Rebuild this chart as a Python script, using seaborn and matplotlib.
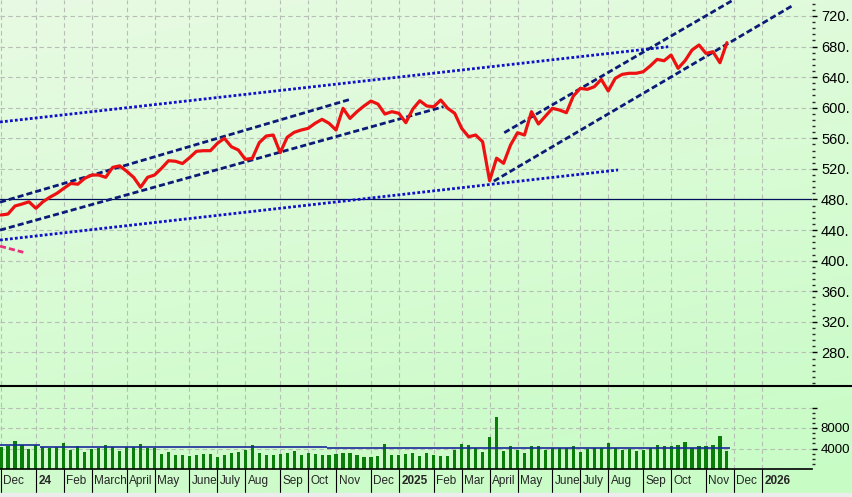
import matplotlib
matplotlib.use("Agg")
import matplotlib.pyplot as plt
import seaborn as sns
import numpy as np
import pandas as pd
from matplotlib.lines import Line2D
from matplotlib.patches import Rectangle
from matplotlib.ticker import FixedLocator, MultipleLocator

# weekly closes, one bar per Friday starting 1 Dec 2023
close = [459.7, 461.0, 471.5, 474.0, 477.0, 468.5, 477.0, 483.0, 488.0, 494.6,
         501.0, 500.0, 507.7, 512.0, 512.0, 509.0, 522.0, 524.0, 517.0, 509.0,
         496.0, 509.0, 512.0, 520.8, 530.7, 530.0, 527.0, 534.6, 543.0, 543.8,
         543.8, 553.4, 560.0, 549.0, 544.7, 532.5, 533.8, 554.3, 563.0, 564.3,
         541.2, 561.3, 567.8, 570.8, 573.0, 579.6, 584.8, 579.6, 570.8, 599.2,
         586.0, 594.8, 602.2, 608.7, 604.8, 591.7, 594.8, 592.7, 580.4, 598.3,
         609.1, 602.2, 601.3, 610.0, 599.2, 592.7, 573.0, 562.0, 564.3, 555.5,
         504.6, 534.0, 527.3, 551.2, 567.3, 564.3, 594.8, 578.7, 589.0, 599.2,
         597.0, 593.5, 615.3, 625.3, 624.0, 627.4, 637.0, 621.8, 638.4, 643.6,
         645.0, 645.0, 647.0, 654.5, 663.2, 661.4, 668.9, 651.5, 661.4, 675.4,
         682.0, 671.0, 673.2, 658.8, 685.0]

volume = [4200, 4400, 5500, 4600, 4000, 4600, 4200, 4100, 4200, 5100,
          3800, 4400, 3400, 3900, 4100, 4700, 4200, 3600, 4200, 4200,
          4900, 4100, 4100, 3000, 3400, 2800, 2700, 2600, 2800, 3000,
          3000, 2300, 2800, 3100, 3400, 3800, 4700, 3200, 2800, 2800,
          2900, 3200, 3600, 2800, 3200, 2900, 2700, 2700, 2900, 3100,
          3100, 2800, 2300, 2300, 2500, 4900, 2700, 2700, 3000, 3200,
          2500, 3200, 2800, 2500, 2500, 3800, 4900, 4600, 4100, 3400,
          6300, 10100, 3600, 4400, 3800, 3200, 4400, 4400, 3800, 4100,
          4100, 4100, 4500, 3400, 4000, 4100, 4100, 5100, 4100, 3800,
          4000, 3600, 3800, 4100, 4700, 4500, 4400, 4700, 5300, 4100,
          4400, 4500, 4700, 6500, 3600]

# volume average, drawn as flat steps
avg_from = [-0.1, 5.6, 11.6, 46.7]
avg_to = [5.6, 11.6, 46.7, 104.4]
avg_level = [4700, 4350, 4200, 4030]

# trend lines: (start week, start value, end week, end value)
dotted_lines = [(-0.14, 581.3, 95.6, 679.7),
                (-0.14, 427.0, 88.4, 518.6)]
dashed_lines = [(-0.14, 476.5, 50.2, 611.4),
                (-0.14, 440.0, 63.4, 601.3),
                (72.1, 567.3, 104.9, 740.8),
                (70.6, 504.0, 113.5, 734.0)]
pink_line = (-0.14, 419.0, 3.2, 411.0)
support = 480

price_ticks = [280, 320, 360, 400, 440, 480, 520, 560, 600, 640, 680, 720]
price_labels = [f"{p}." for p in price_ticks]
vol_ticks = [4000, 8000, 12000]
vol_labels = ["4000", "8000", ""]
month_labels = ["Dec", "24", "Feb", "March", "April", "May", "June", "July",
                "Aug", "Sep", "Oct", "Nov", "Dec", "2025", "Feb", "Mar",
                "April", "May", "June", "July", "Aug", "Sep", "Oct", "Nov",
                "Dec", "2026"]
year_labels = ["24", "2025", "2026"]

weeks = pd.date_range("2023-12-01", periods=110, freq="W-FRI")
month_idx = [i for i in range(len(weeks))
             if i == 0 or weeks[i].month != weeks[i - 1].month]

df = pd.DataFrame({"week": np.arange(len(close)), "close": close, "volume": volume})

sns.set_style("white")
plt.rcParams["font.family"] = ["Liberation Sans", "DejaVu Sans"]

W, H = 852, 497
fig = plt.figure(figsize=(W / 100, H / 100), dpi=100)

# green background
bg = fig.add_axes([0, 0, 1, 1])
yy, xx = np.mgrid[0:1:200j, 0:1:300j]
t = 0.75 * yy + 0.25 * xx
top = np.array([0.91, 0.98, 0.89])
bottom = np.array([0.78, 0.99, 0.77])
img = top * (1 - t)[..., None] + bottom * t[..., None]
bg.imshow(img, extent=[0, 1, 0, 1], aspect="auto")
bg.axis("off")
bg.set_zorder(0)
fig.patches.append(Rectangle((0, 0), 1, 4 / H, transform=fig.transFigure,
                             color="#ececec", zorder=5))

xlim = (-0.143, 116.19)
grid_kw = dict(color="#b6beb6", linestyle=(0, (4, 3)), linewidth=0.8)

# price panel
ax = fig.add_axes([0, 1 - 385 / H, 812 / W, 385 / H])
ax.set_zorder(1)
ax.set_facecolor("none")
for x in month_idx:
    ax.axvline(x, zorder=0, **grid_kw)
for y in price_ticks:
    ax.axhline(y, zorder=0, **grid_kw)

ax.axhline(support, color="#00105a", linewidth=0.9, zorder=2)
for x0, y0, x1, y1 in dotted_lines:
    ax.plot([x0, x1], [y0, y1], color="#1010c8", linewidth=2.0,
            linestyle=(0, (1, 0.8)), zorder=3)
for x0, y0, x1, y1 in dashed_lines:
    ax.plot([x0, x1], [y0, y1], color="#0c1a78", linewidth=2.0,
            linestyle=(0, (2.2, 1.1)), zorder=3)
ax.plot([pink_line[0], pink_line[2]], [pink_line[1], pink_line[3]],
        color="#e8307a", linewidth=2.0, linestyle=(0, (2.2, 1.1)), zorder=3)

sns.lineplot(data=df, x="week", y="close", ax=ax, color="#ee1111",
             linewidth=2.3, zorder=4)
ax.set_xlabel("")
ax.set_ylabel("")
ax.set_xlim(*xlim)
ax.set_ylim(237.5, 740.8)
ax.set_xticks([])
ax.yaxis.tick_right()
ax.set_yticks(price_ticks)
ax.set_yticklabels(price_labels)
ax.yaxis.set_minor_locator(MultipleLocator(8))
ax.tick_params(axis="y", which="major", direction="out", length=3.5, width=1,
               pad=3, labelsize=10.5, colors="black")
ax.tick_params(axis="y", which="minor", direction="out", length=2, width=1)
for s in ax.spines.values():
    s.set_visible(False)

fig.add_artist(Line2D([0, 1], [1 - 386 / H] * 2, color="black", linewidth=1.5))

# volume panel
axv = fig.add_axes([0, 1 - 469 / H, 812 / W, (469 - 387) / H])
axv.set_zorder(1)
axv.set_facecolor("none")
for x in month_idx:
    axv.axvline(x, zorder=0, **grid_kw)
for y in vol_ticks:
    axv.axhline(y, zorder=0, **grid_kw)
sns.barplot(data=df, x="week", y="volume", ax=axv, native_scale=True,
            width=0.45, color="#0b7d0b", saturation=1, errorbar=None,
            linewidth=0, zorder=2)
axv.hlines(avg_level, avg_from, avg_to, color="#1a2a9a", linewidth=1.2, zorder=3)
axv.set_xlabel("")
axv.set_ylabel("")
axv.set_xlim(*xlim)
axv.set_ylim(0, 16000)
axv.set_xticks([])
axv.yaxis.tick_right()
axv.set_yticks(vol_ticks)
axv.set_yticklabels(vol_labels)
axv.yaxis.set_minor_locator(FixedLocator(range(1000, 12001, 1000)))
axv.tick_params(axis="y", which="major", direction="out", length=3.5, width=1,
                pad=2.5, labelsize=9.5, colors="black")
axv.tick_params(axis="y", which="minor", direction="out", length=2, width=1)
for name, s in axv.spines.items():
    s.set_visible(name == "bottom")
axv.spines["bottom"].set_color("black")
axv.spines["bottom"].set_linewidth(1.2)

# month label row
axl = fig.add_axes([0, 4 / H, 812 / W, 24 / H])
axl.set_xlim(*xlim)
axl.set_ylim(0, 1)
axl.axis("off")
axl.vlines(month_idx, 0, 1, color="black", linewidth=0.8)
for x, lab in zip(month_idx, month_labels):
    axl.annotate(lab, (x, 0.52), xytext=(1.8, 0), textcoords="offset points",
                 ha="left", va="center", fontsize=8.5,
                 fontweight="bold" if lab in year_labels else "normal")

fig.savefig("out.png", dpi=100)
